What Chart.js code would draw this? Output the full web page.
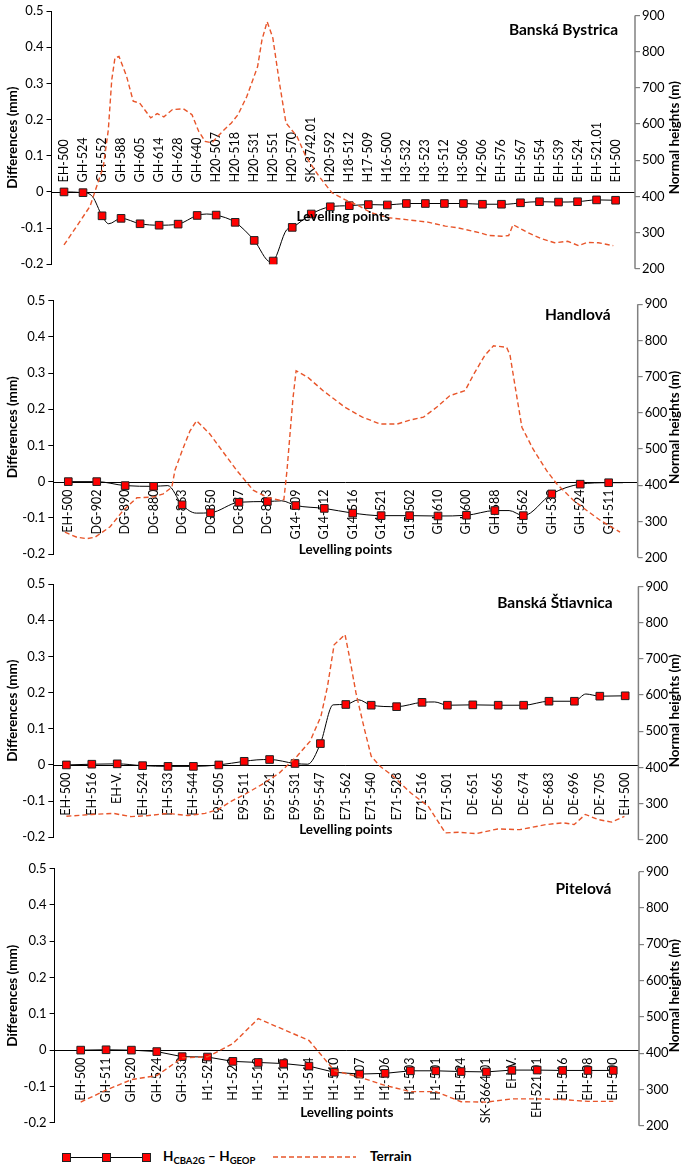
<!DOCTYPE html>
<html><head><meta charset="utf-8">
<script src="https://cdn.jsdelivr.net/npm/chart.js@4.4.1/dist/chart.umd.min.js"></script>
<style>
html,body{margin:0;padding:0;background:#fff}
body{width:685px;height:1170px;position:relative;overflow:hidden;font-family:Lato,sans-serif}
canvas.pc{position:absolute;left:0}
.lg{position:absolute;font:bold 13.5px Lato,sans-serif;color:#000;white-space:nowrap;line-height:16px}
.lg sub{font-size:9.5px;vertical-align:-3px;line-height:0}
.sq{position:absolute;width:7px;height:7px;background:#ff0000;border:1px solid #222}
</style></head><body>
<canvas id="c1" class="pc" width="685" height="285" style="top:0px"></canvas>
<canvas id="c2" class="pc" width="685" height="285" style="top:286px"></canvas>
<canvas id="c3" class="pc" width="685" height="285" style="top:571px"></canvas>
<canvas id="c4" class="pc" width="685" height="285" style="top:855px"></canvas>

<div style="position:absolute;left:67px;top:1157px;width:80px;height:1px;background:#000"></div>
<div class="sq" style="left:62px;top:1153px"></div>
<div class="sq" style="left:102px;top:1153px"></div>
<div class="sq" style="left:142px;top:1153px"></div>
<div class="lg" style="left:163px;top:1148px">H<sub>CBA2G</sub> – H<sub>GEOP</sub></div>
<svg style="position:absolute;left:273px;top:1152px" width="84" height="10"><line x1="0" y1="5" x2="83" y2="5" stroke="#E8552A" stroke-width="1.4" stroke-dasharray="5,3"/></svg>
<div class="lg" style="left:370px;top:1148px">Terrain</div>

<script>
// ---------- tick labels ----------
const leftTicks = [-0.2, -0.1, 0, 0.1, 0.2, 0.3, 0.4, 0.5];
const rightTicks = [200, 300, 400, 500, 600, 700, 800, 900];

// ---------- Banská Bystrica ----------
const bbLabels = ["EH-500","GH-524","GH-552","GH-588","GH-605","GH-614","GH-628","GH-640","H20-507","H20-518","H20-531","H20-551","H20-570","SK-3742.01","H20-592","H18-512","H17-509","H16-500","H3-532","H3-523","H3-512","H3-506","H2-506","EH-576","EH-567","EH-554","EH-539","EH-524","EH-521.01","EH-500"];
const bbDiff = [0,-0.002,-0.066,-0.073,-0.088,-0.092,-0.089,-0.065,-0.064,-0.084,-0.134,-0.191,-0.098,-0.061,-0.041,-0.038,-0.035,-0.036,-0.032,-0.032,-0.032,-0.032,-0.034,-0.034,-0.030,-0.027,-0.028,-0.027,-0.022,-0.023];
const bbExtraX = [1.5, 2.35, 7.5, 10.85, 11.7, 23.3];
const bbExtraY = [-0.013, -0.088, -0.061, -0.193, -0.105, -0.034];
const bbTerrX = [0,0.84,1.37,1.63,2.07,2.33,2.51,2.68,2.89,3.29,3.64,3.98,4.56,4.90,5.25,5.70,6.28,6.73,7.08,7.42,7.77,8.34,8.80,9.15,9.61,10.18,10.41,10.68,10.98,11.33,11.67,12.25,12.71,13.40,14.09,14.77,15.46,16.15,17.07,17.99,19.13,20.05,20.74,21.89,22.35,23.03,23.38,23.61,24.07,24.42,25.11,25.79,26.48,27.06,27.51,28.09,28.88];
const bbTerrH = [266,331,373,414,483,584,722,783,787,732,663,658,617,629,620,640,642,626,580,552,548,580,603,626,676,759,833,883,838,713,603,566,511,456,410,391,375,355,341,336,329,318,313,299,292,290,292,322,309,299,283,272,276,264,273,272,264];

// ---------- Handlová ----------
const haLabels = ["EH-500","DG-902","DG-890","DG-880","DG-863","DG-850","DG-837","DG-823","G14-509","G14-512","G14-516","G14-521","G15-502","GH-610","GH-600","GH-588","GH-562","GH-533","GH-524","GH-511"];
const haDiff = [0,0,-0.011,-0.013,-0.064,-0.086,-0.057,-0.055,-0.066,-0.074,-0.087,-0.094,-0.094,-0.095,-0.093,-0.080,-0.094,-0.034,-0.007,-0.003];
const haExtraX = [3.5, 4.5, 7.5, 15.5, 19.5];
const haExtraY = [-0.011, -0.087, -0.053, -0.080, -0.003];
const haTerrX = [-0.12,0.30,0.65,0.94,1.47,1.93,2.41,2.99,3.34,3.64,3.75,4.05,4.28,4.51,4.97,5.58,5.92,6.50,6.98,7.44,7.58,7.69,7.90,8.01,8.42,8.96,9.73,10.34,10.96,11.57,12.03,12.49,12.95,13.41,13.95,14.26,14.64,14.95,15.41,15.53,15.78,15.95,16.34,16.82,17.17,17.76,18.23,18.70,19.40];
const haTerrH = [270,256,252,256,285,330,365,367,376,394,441,505,550,578,542,477,441,386,367,358,360,441,640,716,698,661,615,588,569,569,580,588,615,647,661,707,758,785,781,760,640,560,500,440,404,358,330,303,270];

// ---------- Banská Štiavnica ----------
const bsLabels = ["EH-500","EH-516","EH-V.","EH-524","EH-533","EH-544","E95-505","E95-511","E95-521","E95-531","E95-547","E71-562","E71-540","E71-528","E71-516","E71-501","DE-651","DE-665","DE-674","DE-683","DE-696","DE-705","EH-500"];
const bsDiff = [0,0.002,0.003,-0.002,-0.004,-0.004,0,0.010,0.015,0.004,0.059,0.167,0.165,0.161,0.173,0.165,0.166,0.165,0.165,0.176,0.176,0.190,0.191];
const bsExtraX = [7.5, 9.5, 10.5, 11.5, 14.5, 20.45];
const bsExtraY = [0.014, 0.002, 0.166, 0.180, 0.174, 0.196];
const bsTerrX = [0,1.0,1.85,2.54,3.23,4.0,4.78,5.46,5.98,6.50,7.01,7.70,8.39,9.08,9.59,10.02,10.28,10.54,10.97,11.14,11.40,11.74,12.0,12.35,12.86,13.55,14.24,14.92,15.44,16.13,16.98,17.85,18.88,19.56,19.99,20.43,20.94,21.46,21.97];
const bsTerrH = [265,270,273,264,267,273,267,273,284,307,325,353,385,431,472,541,624,739,767,707,606,504,431,403,376,330,293,219,221,217,230,228,242,247,242,270,256,249,265];

// ---------- Pitelová ----------
const piLabels = ["EH-500","GH-511","GH-520","GH-524","GH-533","H1-525","H1-520","H1-518","H1-515","H1-514","H1-510","H1-507","H1-506","H1-503","H1-501","EH-524","SK-3664.01","EH-V.","EH-521.01","EH-516","EH-508","EH-500"];
const piDiff = [0,0.001,0,-0.004,-0.018,-0.019,-0.031,-0.034,-0.037,-0.044,-0.061,-0.066,-0.064,-0.057,-0.057,-0.059,-0.060,-0.055,-0.055,-0.056,-0.056,-0.056];
const piExtraX = [];
const piExtraY = [];
const piTerrX = piLabels.map((_, i) => i);
const piTerrH = [265,298,327,338,387,390,426,495,465,435,352,334,311,294,294,266,265,274,274,272,267,267];

// ---------- layout (page pixels) ----------
const PANELS = [
  {id:'c1', labels:bbLabels, diff:bbDiff, ex:bbExtraX, ey:bbExtraY, tx:bbTerrX, th:bbTerrH, title:'Banská Bystrica', smooth:true, above:true,
   g:{top:0,h:285,left:51.5,right:635,aTop:11,aBot:264.3,x0:64,dx:19.02,shift:4.5,titleX:618,titleY:30,lpY:216.7}},
  {id:'c2', labels:haLabels, diff:haDiff, ex:haExtraX, ey:haExtraY, tx:haTerrX, th:haTerrH, title:'Handlová', smooth:true, above:false,
   g:{top:286,h:285,left:53.3,right:637.7,aTop:300.7,aBot:554,x0:68.3,dx:28.44,shift:3.5,titleX:610.5,titleY:315,lpY:550}},
  {id:'c3', labels:bsLabels, diff:bsDiff, ex:bsExtraX, ey:bsExtraY, tx:bsTerrX, th:bsTerrH, title:'Banská Štiavnica', smooth:true, above:false,
   g:{top:571,h:285,left:53.3,right:638.4,aTop:584,aBot:837.3,x0:66.4,dx:25.4,shift:2.5,titleX:612.7,titleY:603.3,lpY:830}},
  {id:'c4', labels:piLabels, diff:piDiff, ex:piExtraX, ey:piExtraY, tx:piTerrX, th:piTerrH, title:'Pitelová', smooth:false, above:false,
   g:{top:855,h:285,left:54.6,right:639,aTop:868.7,aBot:1122.7,x0:80.7,dx:25.36,shift:3,titleX:611.4,titleY:889.3,lpY:1113}}
];

Chart.defaults.font.family = 'Lato';
Chart.defaults.color = '#000';

function makeDecor(p){
  const g = p.g;
  return {
    id:'decor_'+p.id,
    beforeDatasetsDraw(chart){
      const {ctx, chartArea:a, scales:{x, y}} = chart;
      const y0 = Math.round(y.getPixelForValue(0)) + 0.5;
      ctx.save();
      ctx.strokeStyle = '#000'; ctx.lineWidth = 1;
      ctx.beginPath(); ctx.moveTo(a.left, y0); ctx.lineTo(a.right, y0); ctx.stroke();
      ctx.font = '12.5px Lato'; ctx.fillStyle = '#000'; ctx.textBaseline = 'middle';
      p.labels.forEach((t, i) => {
        const px = x.getPixelForValue(i);
        ctx.save();
        ctx.translate(px, p.above ? y0 - 10 : y0 + 7);
        ctx.rotate(-Math.PI/2);
        ctx.textAlign = p.above ? 'left' : 'right';
        ctx.fillText(t, 0, 0);
        ctx.restore();
      });
      ctx.restore();
    },
    afterDraw(chart){
      const {ctx, chartArea:a, scales:{y2}} = chart;
      ctx.save();
      ctx.strokeStyle = '#808080'; ctx.lineWidth = 1.5;
      ctx.beginPath();
      ctx.moveTo(a.right, y2.getPixelForValue(rightTicks[rightTicks.length-1]));
      ctx.lineTo(a.right, y2.getPixelForValue(rightTicks[0]));
      ctx.stroke();
      ctx.fillStyle = '#000'; ctx.font = 'bold 13.5px Lato';
      ctx.textAlign = 'center'; ctx.textBaseline = 'middle';
      const cy = (a.top + a.bottom)/2;
      ctx.save(); ctx.translate(12.2, cy); ctx.rotate(-Math.PI/2); ctx.fillText('Differences (mm)', 0, 0); ctx.restore();
      ctx.save(); ctx.translate(674.5, cy); ctx.rotate(-Math.PI/2); ctx.fillText('Normal heights (m)', 0, 0); ctx.restore();
      ctx.font = 'bold 15.5px Lato'; ctx.textAlign = 'right';
      ctx.fillText(p.title, g.titleX, g.titleY - g.top);
      ctx.font = 'bold 13.5px Lato'; ctx.textAlign = 'center';
      ctx.fillText('Levelling points', (a.left + a.right)/2, g.lpY - g.top);
      ctx.restore();
    }
  };
}

PANELS.forEach(p => {
  const g = p.g;
  const k = (g.aBot - g.aTop) / 700;
  const rMax = 900 + g.shift / k;
  const rMin = rMax - 700;
  const pts = p.diff.map((v, i) => ({x:i, y:v}));
  p.ex.forEach((v, j) => pts.push({x:v, y:p.ey[j]}));
  pts.sort((a, b) => a.x - b.x);
  const terr = p.tx.map((v, i) => ({x:v, y:p.th[i]}));
  new Chart(document.getElementById(p.id), {
    type:'line',
    data:{datasets:[
      {label:'Terrain', data:terr, yAxisID:'y2', borderColor:'#E8552A', borderWidth:1.4, borderDash:[5,3],
       pointRadius:0, tension:0, fill:false},
      {label:'HCBA2G - HGEOP', data:pts, yAxisID:'y', borderColor:'#000', borderWidth:1,
       pointRadius: c => (c.raw && Number.isInteger(c.raw.x)) ? 5.4 : 0,
       pointStyle:'rect', pointBackgroundColor:'#ff0000', pointBorderColor:'#222', pointBorderWidth:1,
       cubicInterpolationMode: p.smooth ? 'monotone' : 'default', tension:0, fill:false}
    ]},
    options:{
      responsive:false, animation:false, events:[],
      layout:{padding:{top:g.aTop - g.top, bottom:g.top + g.h - g.aBot, left:0, right:0}},
      plugins:{legend:{display:false}, tooltip:{enabled:false}},
      scales:{
        x:{type:'linear', display:false, min:(g.left - g.x0)/g.dx, max:(g.right - g.x0)/g.dx},
        y:{type:'linear', position:'left', min:-0.2, max:0.5,
           afterBuildTicks: s => { s.ticks = leftTicks.map(v => ({value:v})); },
           afterFit: s => { s.width = g.left; },
           ticks:{font:{size:13}, color:'#000', padding:3, callback: v => String(Math.round(v*10)/10)},
           grid:{drawOnChartArea:false, drawTicks:true, tickLength:5, color:'#000'},
           border:{display:true, color:'#000', width:1}},
        y2:{type:'linear', position:'right', min:rMin, max:rMax,
           afterBuildTicks: s => { s.ticks = rightTicks.map(v => ({value:v})); },
           afterFit: s => { s.width = 685 - g.right; },
           ticks:{font:{size:13}, color:'#000', padding:2, callback: v => String(v)},
           grid:{drawOnChartArea:false, drawTicks:true, tickLength:5, color:'#808080', lineWidth:1.2},
           border:{display:false}}
      }
    },
    plugins:[makeDecor(p)]
  });
});
</script>
</body></html>
